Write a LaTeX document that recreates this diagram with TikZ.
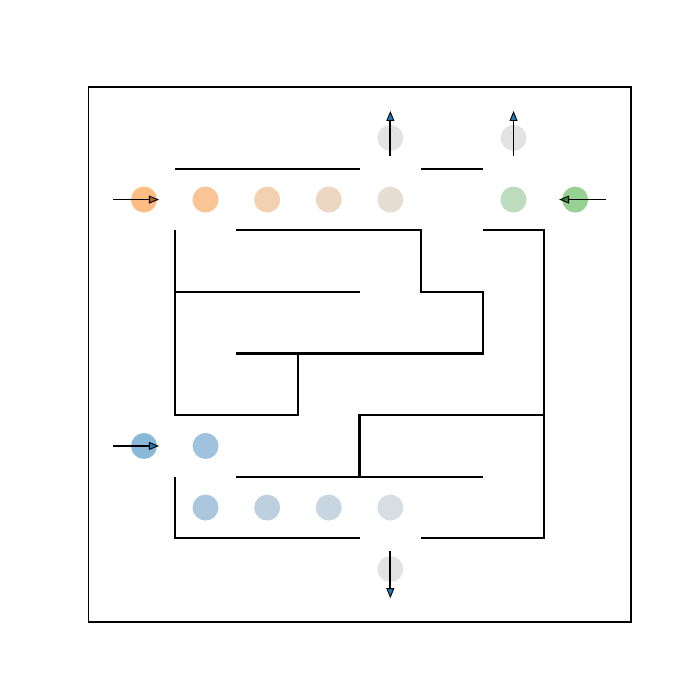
\documentclass[tikz,border=0pt]{standalone}
\usetikzlibrary{arrows.meta}
\definecolor{orA}{HTML}{FFBD84}
\definecolor{orB}{HTML}{F9C596}
\definecolor{orC}{HTML}{F3D0B0}
\definecolor{orD}{HTML}{EDD6C2}
\definecolor{orE}{HTML}{E8DDD3}
\definecolor{grA}{HTML}{BDDCBD}
\definecolor{grB}{HTML}{97D193}
\definecolor{blA}{HTML}{8AB8D9}
\definecolor{blB}{HTML}{9FC2DE}
\definecolor{blC}{HTML}{ABC7DD}
\definecolor{blD}{HTML}{BCD0DF}
\definecolor{blE}{HTML}{C8D6E1}
\definecolor{blF}{HTML}{D6DDE3}
\definecolor{grau}{HTML}{E3E3E3}
\definecolor{tipOr}{HTML}{B0642A}
\definecolor{tipBl}{HTML}{1F77B4}
\definecolor{tipGr}{HTML}{2C8A2C}
\tikzset{
  wand/.style={line width=2.2pt},
  feld/.style={circle, fill=#1, minimum size=26pt, inner sep=0pt},
  pfeil/.style={line width=1.8pt, -{Triangle[length=10pt, width=8pt, line width=0.9pt, fill=#1]}},
}
\begin{document}
\begin{tikzpicture}[x=61.6pt, y=-61.6pt]
  \useasboundingbox (-2.337,-2.240) rectangle (9.026,9.124);
  % Rahmen
  \draw [line width=1.1pt] (-0.893,-0.828) rectangle (7.906,7.857);
  % Felder
  \node [feld=orA]  (o0) at (0,1) {};
  \node [feld=orB]  (o1) at (1,1) {};
  \node [feld=orC]  (o2) at (2,1) {};
  \node [feld=orD]  (o3) at (3,1) {};
  \node [feld=orE]  (o4) at (4,1) {};
  \node [feld=grau] (x1) at (4,0) {};
  \node [feld=grA]  (g1) at (6,1) {};
  \node [feld=grB]  (g0) at (7,1) {};
  \node [feld=grau] (x2) at (6,0) {};
  \node [feld=blA]  (b0) at (0,5) {};
  \node [feld=blB]  (b1) at (1,5) {};
  \node [feld=blC]  (b2) at (1,6) {};
  \node [feld=blD]  (b3) at (2,6) {};
  \node [feld=blE]  (b4) at (3,6) {};
  \node [feld=blF]  (b5) at (4,6) {};
  \node [feld=grau] (x3) at (4,7) {};
  % Waende
  \draw [wand] (0.5,0.5) -- (3.5,0.5);
  \draw [wand] (4.5,0.5) -- (5.5,0.5);
  \draw [wand] (1.5,1.5) -- (4.5,1.5) -- (4.5,2.5) -- (5.5,2.5) -- (5.5,3.5) -- (1.5,3.5);
  \draw [wand] (2.5,3.5) -- (2.5,4.5) -- (0.5,4.5) -- (0.5,1.5);
  \draw [wand] (0.5,2.5) -- (3.5,2.5);
  \draw [wand] (5.5,1.5) -- (6.5,1.5) -- (6.5,6.5) -- (4.5,6.5);
  \draw [wand] (6.5,4.5) -- (3.5,4.5) -- (3.5,5.5);
  \draw [wand] (1.5,5.5) -- (5.5,5.5);
  \draw [wand] (0.5,5.5) -- (0.5,6.5) -- (3.5,6.5);
  % Pfeile
  \coordinate (einO) at (-0.5,1);
  \coordinate (einB) at (-0.5,5);
  \coordinate (einG) at (7.5,1);
  \draw [pfeil=tipOr] (einO) -- ([xshift=15pt]o0.center);
  \draw [pfeil=tipBl] (einB) -- ([xshift=15pt]b0.center);
  \draw [pfeil=tipGr] (einG) -- ([xshift=-16pt]g0.center);
  \draw [pfeil=tipBl] ([yshift=-18pt]x1.center) -- ([yshift=27pt]x1.center);
  \draw [pfeil=tipBl] ([yshift=-18pt]x2.center) -- ([yshift=27pt]x2.center);
  \draw [pfeil=tipBl] ([yshift=18pt]x3.center) -- ([yshift=-29pt]x3.center);
\end{tikzpicture}
\end{document}
